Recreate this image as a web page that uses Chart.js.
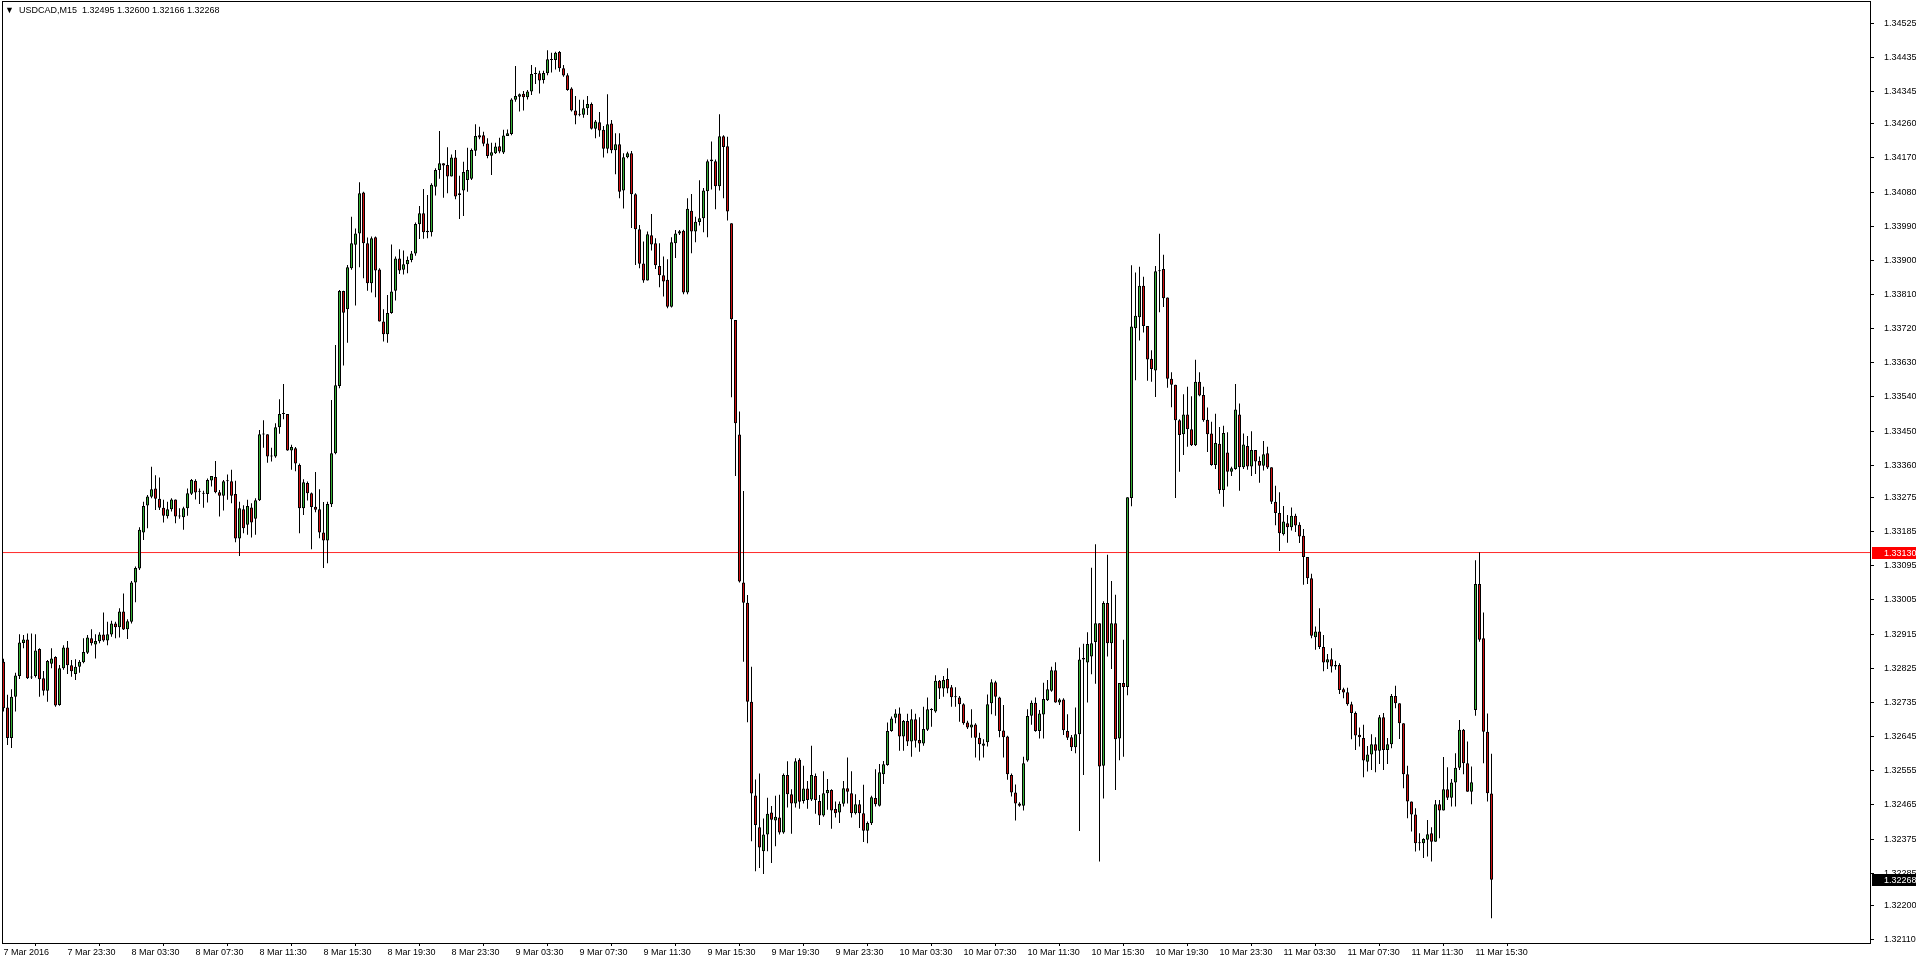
<!DOCTYPE html>
<html><head><meta charset="utf-8">
<script src="https://cdn.jsdelivr.net/npm/chart.js@4.4.1/dist/chart.umd.min.js"></script>
<style>
html,body{margin:0;padding:0;background:#fff;overflow:hidden}
#wrap{position:relative;width:1916px;height:964px}
#c{display:block}
#title{position:absolute;left:5px;top:5px;font:9px 'Liberation Sans',Arial,sans-serif;color:#000;white-space:pre;line-height:11px}
</style></head><body>
<div id="wrap"><canvas id="c" width="1916" height="964"></canvas><div id="title">▼  USDCAD,M15  1.32495 1.32600 1.32166 1.32268</div></div>
<script>
const symbolTitle = "USDCAD,M15";
const levelPrice = 1.33130;
const yTickValues = [1.34525,1.34435,1.34345,1.34260,1.34170,1.34080,1.33990,1.33900,1.33810,1.33720,1.33630,1.33540,1.33450,1.33360,1.33275,1.33185,1.33095,1.33005,1.32915,1.32825,1.32735,1.32645,1.32555,1.32465,1.32375,1.32285,1.32200,1.32110];
const xTickLabels = ["7 Mar 2016","7 Mar 23:30","8 Mar 03:30","8 Mar 07:30","8 Mar 11:30","8 Mar 15:30","8 Mar 19:30","8 Mar 23:30","9 Mar 03:30","9 Mar 07:30","9 Mar 11:30","9 Mar 15:30","9 Mar 19:30","9 Mar 23:30","10 Mar 03:30","10 Mar 07:30","10 Mar 11:30","10 Mar 15:30","10 Mar 19:30","10 Mar 23:30","11 Mar 03:30","11 Mar 07:30","11 Mar 11:30","11 Mar 15:30"];
const barsPerLabel = 16;

const opens = [1.32842,1.32722,1.32641,1.32750,1.32805,1.32892,1.32901,1.32801,1.32805,1.32876,
1.32799,1.32766,1.32837,1.32855,1.32728,1.32825,1.32880,1.32833,1.32810,1.32829,
1.32841,1.32866,1.32904,1.32888,1.32896,1.32914,1.32898,1.32914,1.32943,1.32933,
1.32975,1.32928,1.32948,1.33051,1.33088,1.33183,1.33254,1.33277,1.33299,1.33272,
1.33248,1.33226,1.33244,1.33270,1.33225,1.33223,1.33247,1.33285,1.33319,1.33291,
1.33286,1.33284,1.33320,1.33329,1.33289,1.33280,1.33318,1.33318,1.33284,1.33167,
1.33244,1.33203,1.33249,1.33219,1.33268,1.33441,1.33442,1.33383,1.33383,1.33460,
1.33495,1.33495,1.33399,1.33405,1.33361,1.33247,1.33313,1.33286,1.33251,1.33244,
1.33183,1.33162,1.33257,1.33392,1.33569,1.33819,1.33771,1.33879,1.33941,1.33971,
1.34079,1.33945,1.33840,1.33961,1.33876,1.33739,1.33705,1.33761,1.33820,1.33905,
1.33875,1.33890,1.33901,1.33918,1.33995,1.34024,1.33978,1.33974,1.34094,1.34138,
1.34156,1.34151,1.34121,1.34171,1.34077,1.34084,1.34112,1.34115,1.34189,1.34230,
1.34230,1.34208,1.34176,1.34182,1.34201,1.34184,1.34228,1.34233,1.34323,1.34331,
1.34339,1.34330,1.34345,1.34391,1.34393,1.34375,1.34393,1.34428,1.34428,1.34449,
1.34406,1.34388,1.34353,1.34295,1.34284,1.34284,1.34301,1.34312,1.34247,1.34264,
1.34244,1.34194,1.34261,1.34190,1.34206,1.34084,1.34172,1.34182,1.34074,1.33982,
1.33892,1.33847,1.33966,1.33945,1.33885,1.33861,1.33849,1.33778,1.33945,1.33971,
1.33978,1.33815,1.34031,1.33976,1.34001,1.34011,1.34082,1.34166,1.34161,1.34095,
1.34227,1.34201,1.33998,1.33743,1.33441,1.33051,1.32998,1.32737,1.32490,1.32406,
1.32343,1.32387,1.32445,1.32424,1.32432,1.32392,1.32544,1.32493,1.32469,1.32584,
1.32475,1.32508,1.32479,1.32541,1.32475,1.32437,1.32496,1.32504,1.32454,1.32445,
1.32468,1.32509,1.32496,1.32443,1.32467,1.32443,1.32397,1.32417,1.32483,1.32463,
1.32546,1.32570,1.32660,1.32695,1.32706,1.32645,1.32686,1.32632,1.32691,1.32636,
1.32627,1.32663,1.32715,1.32711,1.32792,1.32772,1.32797,1.32775,1.32750,1.32748,
1.32730,1.32682,1.32669,1.32677,1.32642,1.32621,1.32630,1.32733,1.32788,1.32748,
1.32661,1.32645,1.32544,1.32498,1.32469,1.32463,1.32582,1.32700,1.32734,1.32660,
1.32703,1.32741,1.32766,1.32820,1.32735,1.32743,1.32660,1.32643,1.32617,1.32651,
1.32848,1.32840,1.32856,1.32894,1.32944,1.32568,1.32997,1.32891,1.32944,1.32640,
1.32786,1.32776,1.33274,1.33721,1.33750,1.33833,1.33727,1.33641,1.33610,1.33871,
1.33877,1.33802,1.33588,1.33572,1.33479,1.33442,1.33494,1.33455,1.33413,1.33580,
1.33545,1.33480,1.33444,1.33361,1.33417,1.33295,1.33394,1.33343,1.33350,1.33494,
1.33355,1.33411,1.33357,1.33400,1.33371,1.33359,1.33392,1.33355,1.33264,1.33234,
1.33178,1.33207,1.33197,1.33227,1.33203,1.33174,1.33118,1.33062,1.32907,1.32922,
1.32881,1.32840,1.32849,1.32834,1.32834,1.32770,1.32762,1.32730,1.32707,1.32650,
1.32641,1.32579,1.32598,1.32625,1.32608,1.32696,1.32610,1.32625,1.32752,1.32733,
1.32680,1.32546,1.32474,1.32440,1.32364,1.32364,1.32373,1.32390,1.32368,1.32467,
1.32450,1.32506,1.32484,1.32524,1.32563,1.32663,1.32575,1.32500,1.32715,1.33047,
1.32904,1.32658,1.32495];

const highs = [1.32850,1.32755,1.32770,1.32813,1.32915,1.32913,1.32917,1.32917,1.32915,1.32878,
1.32818,1.32847,1.32878,1.32857,1.32834,1.32886,1.32897,1.32847,1.32849,1.32847,
1.32904,1.32913,1.32928,1.32915,1.32920,1.32972,1.32948,1.32950,1.32948,1.32983,
1.33022,1.32954,1.33055,1.33093,1.33197,1.33264,1.33282,1.33356,1.33334,1.33328,
1.33269,1.33264,1.33273,1.33270,1.33247,1.33251,1.33299,1.33324,1.33323,1.33299,
1.33293,1.33325,1.33332,1.33371,1.33295,1.33321,1.33336,1.33348,1.33319,1.33264,
1.33255,1.33269,1.33260,1.33273,1.33453,1.33479,1.33442,1.33406,1.33471,1.33534,
1.33574,1.33495,1.33414,1.33408,1.33365,1.33323,1.33317,1.33288,1.33342,1.33297,
1.33263,1.33264,1.33532,1.33677,1.33822,1.33820,1.33888,1.34015,1.33984,1.34106,
1.34081,1.33960,1.33963,1.33963,1.33879,1.33771,1.33809,1.33942,1.33910,1.33929,
1.33926,1.33910,1.33925,1.34000,1.34043,1.34088,1.34072,1.34103,1.34143,1.34241,
1.34156,1.34198,1.34179,1.34191,1.34123,1.34160,1.34197,1.34195,1.34259,1.34252,
1.34239,1.34222,1.34210,1.34210,1.34223,1.34244,1.34245,1.34327,1.34412,1.34340,
1.34346,1.34349,1.34415,1.34409,1.34400,1.34400,1.34454,1.34447,1.34450,1.34452,
1.34415,1.34393,1.34356,1.34333,1.34323,1.34323,1.34333,1.34316,1.34270,1.34291,
1.34254,1.34338,1.34270,1.34235,1.34235,1.34182,1.34186,1.34188,1.34077,1.33993,
1.33950,1.33976,1.34022,1.33958,1.33945,1.33910,1.33903,1.33961,1.33980,1.33980,
1.33981,1.34064,1.34075,1.34015,1.34111,1.34091,1.34166,1.34213,1.34166,1.34285,
1.34230,1.34226,1.33998,1.33743,1.33502,1.33292,1.33018,1.32829,1.32532,1.32548,
1.32429,1.32484,1.32462,1.32489,1.32492,1.32548,1.32580,1.32506,1.32588,1.32588,
1.32568,1.32528,1.32621,1.32548,1.32491,1.32554,1.32533,1.32506,1.32474,1.32474,
1.32528,1.32590,1.32554,1.32493,1.32478,1.32518,1.32421,1.32489,1.32559,1.32573,
1.32581,1.32682,1.32698,1.32717,1.32722,1.32689,1.32705,1.32717,1.32705,1.32696,
1.32724,1.32748,1.32720,1.32807,1.32794,1.32805,1.32825,1.32781,1.32775,1.32752,
1.32733,1.32687,1.32717,1.32680,1.32655,1.32638,1.32756,1.32796,1.32792,1.32750,
1.32728,1.32647,1.32548,1.32519,1.32472,1.32592,1.32717,1.32740,1.32748,1.32715,
1.32787,1.32794,1.32829,1.32841,1.32746,1.32746,1.32704,1.32649,1.32722,1.32880,
1.32890,1.32920,1.33090,1.33152,1.32944,1.33002,1.33124,1.33055,1.33019,1.32786,
1.32900,1.33276,1.33887,1.33868,1.33883,1.33857,1.33727,1.33663,1.33885,1.33970,
1.33915,1.33802,1.33605,1.33572,1.33481,1.33547,1.33567,1.33542,1.33638,1.33605,
1.33567,1.33512,1.33475,1.33496,1.33461,1.33464,1.33447,1.33356,1.33574,1.33523,
1.33444,1.33437,1.33450,1.33400,1.33383,1.33424,1.33409,1.33355,1.33306,1.33289,
1.33253,1.33229,1.33249,1.33232,1.33210,1.33192,1.33118,1.33074,1.32935,1.32983,
1.32913,1.32863,1.32878,1.32845,1.32838,1.32774,1.32774,1.32737,1.32711,1.32669,
1.32676,1.32620,1.32651,1.32643,1.32702,1.32707,1.32641,1.32757,1.32779,1.32733,
1.32680,1.32568,1.32474,1.32456,1.32390,1.32377,1.32425,1.32406,1.32478,1.32478,
1.32591,1.32564,1.32533,1.32601,1.32689,1.32665,1.32632,1.32566,1.33110,1.33131,
1.32972,1.32706,1.32600];

const lows = [1.32711,1.32623,1.32615,1.32711,1.32797,1.32878,1.32797,1.32797,1.32801,1.32750,
1.32753,1.32737,1.32825,1.32724,1.32726,1.32821,1.32810,1.32803,1.32794,1.32813,
1.32838,1.32863,1.32885,1.32851,1.32891,1.32895,1.32886,1.32908,1.32904,1.32906,
1.32926,1.32902,1.32943,1.32999,1.33084,1.33163,1.33194,1.33273,1.33242,1.33242,
1.33209,1.33220,1.33238,1.33207,1.33219,1.33190,1.33227,1.33282,1.33270,1.33258,
1.33248,1.33262,1.33304,1.33286,1.33225,1.33241,1.33269,1.33260,1.33157,1.33121,
1.33181,1.33177,1.33170,1.33177,1.33266,1.33406,1.33367,1.33370,1.33380,1.33443,
1.33481,1.33398,1.33348,1.33344,1.33181,1.33229,1.33267,1.33139,1.33236,1.33168,
1.33089,1.33102,1.33250,1.33389,1.33563,1.33623,1.33683,1.33875,1.33781,1.33882,
1.33853,1.33820,1.33815,1.33803,1.33739,1.33686,1.33683,1.33759,1.33794,1.33864,
1.33863,1.33866,1.33895,1.33912,1.33956,1.33957,1.33958,1.33963,1.34071,1.34115,
1.34065,1.34077,1.34121,1.34061,1.34009,1.34017,1.34081,1.34112,1.34175,1.34219,
1.34201,1.34169,1.34125,1.34180,1.34182,1.34180,1.34228,1.34230,1.34318,1.34292,
1.34295,1.34324,1.34336,1.34365,1.34340,1.34366,1.34388,1.34395,1.34403,1.34397,
1.34384,1.34347,1.34292,1.34259,1.34280,1.34276,1.34283,1.34245,1.34222,1.34226,
1.34171,1.34182,1.34182,1.34127,1.34064,1.34037,1.34169,1.33985,1.33888,1.33879,
1.33841,1.33847,1.33926,1.33877,1.33829,1.33805,1.33774,1.33776,1.33906,1.33967,
1.33811,1.33811,1.33919,1.33948,1.33992,1.33974,1.33961,1.34087,1.34035,1.34084,
1.34064,1.34005,1.33539,1.33332,1.33051,1.32842,1.32683,1.32369,1.32290,1.32299,
1.32283,1.32343,1.32312,1.32356,1.32387,1.32389,1.32458,1.32389,1.32458,1.32455,
1.32469,1.32455,1.32475,1.32442,1.32412,1.32434,1.32452,1.32402,1.32432,1.32417,
1.32461,1.32469,1.32432,1.32440,1.32404,1.32367,1.32364,1.32412,1.32461,1.32461,
1.32520,1.32568,1.32658,1.32680,1.32608,1.32608,1.32620,1.32592,1.32616,1.32605,
1.32621,1.32660,1.32671,1.32708,1.32744,1.32750,1.32759,1.32724,1.32724,1.32684,
1.32676,1.32665,1.32642,1.32590,1.32582,1.32590,1.32619,1.32704,1.32700,1.32643,
1.32590,1.32531,1.32487,1.32424,1.32460,1.32450,1.32579,1.32676,1.32658,1.32640,
1.32640,1.32739,1.32763,1.32734,1.32728,1.32649,1.32636,1.32607,1.32601,1.32396,
1.32544,1.32735,1.32809,1.32784,1.32316,1.32482,1.32856,1.32823,1.32504,1.32583,
1.32592,1.32754,1.33252,1.33584,1.33689,1.33710,1.33583,1.33580,1.33540,1.33763,
1.33777,1.33564,1.33513,1.33274,1.33343,1.33387,1.33409,1.33411,1.33411,1.33542,
1.33475,1.33395,1.33359,1.33350,1.33285,1.33251,1.33304,1.33332,1.33348,1.33293,
1.33350,1.33348,1.33332,1.33337,1.33314,1.33346,1.33350,1.33258,1.33202,1.33134,
1.33175,1.33156,1.33188,1.33184,1.33155,1.33045,1.33047,1.32904,1.32874,1.32876,
1.32817,1.32823,1.32814,1.32821,1.32757,1.32746,1.32726,1.32638,1.32610,1.32619,
1.32538,1.32553,1.32557,1.32551,1.32573,1.32557,1.32573,1.32614,1.32720,1.32639,
1.32509,1.32430,1.32395,1.32342,1.32345,1.32325,1.32329,1.32316,1.32368,1.32377,
1.32450,1.32478,1.32461,1.32461,1.32557,1.32546,1.32500,1.32467,1.32700,1.32895,
1.32575,1.32474,1.32166];

const closes = [1.32720,1.32641,1.32750,1.32806,1.32893,1.32901,1.32799,1.32802,1.32872,1.32796,
1.32766,1.32844,1.32851,1.32727,1.32825,1.32880,1.32833,1.32817,1.32829,1.32842,
1.32868,1.32906,1.32891,1.32897,1.32914,1.32898,1.32915,1.32943,1.32933,1.32975,
1.32927,1.32949,1.33051,1.33089,1.33190,1.33253,1.33278,1.33297,1.33272,1.33248,
1.33227,1.33244,1.33270,1.33225,1.33226,1.33247,1.33286,1.33321,1.33288,1.33290,
1.33285,1.33321,1.33332,1.33289,1.33280,1.33318,1.33318,1.33280,1.33167,1.33247,
1.33194,1.33253,1.33209,1.33268,1.33442,1.33441,1.33383,1.33383,1.33460,1.33495,
1.33495,1.33399,1.33408,1.33365,1.33247,1.33315,1.33286,1.33250,1.33243,1.33183,
1.33162,1.33258,1.33392,1.33571,1.33819,1.33762,1.33882,1.33945,1.33971,1.34077,
1.33945,1.33840,1.33958,1.33873,1.33739,1.33705,1.33761,1.33818,1.33905,1.33873,
1.33890,1.33901,1.33918,1.33996,1.34024,1.33974,1.33974,1.34099,1.34138,1.34156,
1.34150,1.34121,1.34171,1.34068,1.34072,1.34133,1.34138,1.34191,1.34228,1.34224,
1.34207,1.34175,1.34185,1.34200,1.34187,1.34229,1.34235,1.34324,1.34333,1.34338,
1.34330,1.34345,1.34391,1.34391,1.34374,1.34394,1.34430,1.34428,1.34447,1.34406,
1.34387,1.34349,1.34295,1.34282,1.34284,1.34301,1.34312,1.34247,1.34266,1.34242,
1.34194,1.34259,1.34190,1.34206,1.34081,1.34172,1.34182,1.34074,1.33982,1.33891,
1.33847,1.33969,1.33942,1.33887,1.33861,1.33844,1.33778,1.33948,1.33971,1.33977,
1.33815,1.34036,1.33976,1.34002,1.34011,1.34084,1.34161,1.34161,1.34095,1.34227,
1.34199,1.34029,1.33745,1.33471,1.33054,1.32998,1.32737,1.32495,1.32412,1.32353,
1.32387,1.32442,1.32426,1.32434,1.32392,1.32544,1.32493,1.32469,1.32580,1.32473,
1.32508,1.32478,1.32544,1.32478,1.32437,1.32496,1.32504,1.32450,1.32443,1.32468,
1.32509,1.32500,1.32443,1.32467,1.32443,1.32397,1.32417,1.32485,1.32467,1.32551,
1.32572,1.32660,1.32693,1.32706,1.32645,1.32686,1.32632,1.32691,1.32634,1.32627,
1.32665,1.32717,1.32715,1.32792,1.32772,1.32794,1.32772,1.32749,1.32749,1.32730,
1.32680,1.32669,1.32677,1.32642,1.32625,1.32627,1.32730,1.32788,1.32750,1.32660,
1.32643,1.32546,1.32498,1.32469,1.32463,1.32575,1.32699,1.32734,1.32660,1.32706,
1.32744,1.32770,1.32820,1.32735,1.32743,1.32662,1.32642,1.32617,1.32651,1.32848,
1.32852,1.32889,1.32891,1.32944,1.32566,1.32997,1.32891,1.32944,1.32638,1.32786,
1.32776,1.33276,1.33726,1.33754,1.33833,1.33727,1.33639,1.33614,1.33871,1.33873,
1.33800,1.33588,1.33572,1.33479,1.33440,1.33494,1.33455,1.33413,1.33580,1.33544,
1.33479,1.33442,1.33361,1.33419,1.33295,1.33445,1.33343,1.33352,1.33507,1.33355,
1.33415,1.33357,1.33400,1.33370,1.33359,1.33389,1.33354,1.33264,1.33234,1.33181,
1.33212,1.33197,1.33227,1.33201,1.33172,1.33118,1.33062,1.32911,1.32922,1.32881,
1.32840,1.32849,1.32830,1.32830,1.32768,1.32761,1.32730,1.32707,1.32648,1.32643,
1.32582,1.32598,1.32625,1.32608,1.32696,1.32610,1.32625,1.32752,1.32733,1.32680,
1.32546,1.32474,1.32440,1.32364,1.32364,1.32375,1.32388,1.32368,1.32467,1.32450,
1.32506,1.32484,1.32524,1.32563,1.32663,1.32575,1.32500,1.32525,1.33047,1.32900,
1.32658,1.32496,1.32268];

const UP = '#35b035', DOWN = '#d01010', LINE = '#ff2a2a';
const FONT = "'Liberation Sans', Arial, sans-serif";

const bodyData = opens.map((o, i) => ({ x: i, y: [o, closes[i]] }));
const wickData = lows.map((l, i) => ({ x: i, y: [l, highs[i]] }));
const bodyColors = opens.map((o, i) => closes[i] > o ? UP : (closes[i] < o ? DOWN : '#000'));

const X_MIN = -0.375, X_MAX = 466.625;

const zeroPad = s => { s.paddingTop = 0; s.paddingBottom = 0; s.paddingLeft = 0; s.paddingRight = 0; };

const framePlugin = {
  id: 'frame',
  afterDraw(chart) {
    const { ctx, chartArea: a, scales: { y } } = chart;
    ctx.save();
    ctx.strokeStyle = '#000';
    ctx.lineWidth = 1;
    ctx.strokeRect(a.left + 0.5, a.top + 0.5, a.right - a.left, a.bottom - a.top);
    const tag = (v, bg) => {
      const py = Math.round(y.getPixelForValue(v));
      ctx.fillStyle = bg;
      ctx.fillRect(a.right + 2, py - 6, 46, 12);
      ctx.fillStyle = '#fff';
      ctx.font = '9px ' + FONT;
      ctx.textBaseline = 'middle';
      ctx.textAlign = 'left';
      ctx.fillText(v.toFixed(5), a.right + 14, py + 0.5);
    };
    tag(levelPrice, '#ff0000');
    tag(closes[closes.length - 1], '#000');
    ctx.restore();
  }
};

new Chart(document.getElementById('c'), {
  type: 'bar',
  data: {
    datasets: [
      { type: 'bar', label: 'body', data: bodyData, backgroundColor: bodyColors, borderColor: '#000',
        borderWidth: 1, borderSkipped: false, barThickness: 3, minBarLength: 1, grouped: false,
        inflateAmount: 0, order: 0 },
      { type: 'bar', label: 'wick', data: wickData, backgroundColor: '#000', borderWidth: 0,
        barThickness: 1, grouped: false, inflateAmount: 0, order: 1 },
      { type: 'line', label: 'level', data: [{ x: X_MIN, y: levelPrice }, { x: X_MAX, y: levelPrice }],
        borderColor: LINE, borderWidth: 1, pointRadius: 0, fill: false, order: 2 }
    ]
  },
  options: {
    responsive: false, animation: false, devicePixelRatio: 1, events: [],
    layout: { padding: { left: 2, top: 1, right: 0, bottom: 0 } },
    plugins: { legend: { display: false }, tooltip: { enabled: false }, title: { display: false } },
    scales: {
      x: {
        type: 'linear', min: X_MIN, max: X_MAX, position: 'bottom', offset: false,
        afterBuildTicks: s => { s.ticks = xTickLabels.map((t, k) => ({ value: k * barsPerLabel })); },
        afterFit: s => { s.height = 21; zeroPad(s); },
        ticks: { autoSkip: false, maxRotation: 0, minRotation: 0, align: 'start', padding: 1, color: '#000',
          font: { family: FONT, size: 9 }, callback: (v, i) => xTickLabels[i] },
        grid: { display: true, drawOnChartArea: false, drawTicks: true, tickLength: 3, color: '#000', lineWidth: 1 },
        border: { display: false }
      },
      y: {
        position: 'right', min: 1.321011, max: 1.345835,
        afterBuildTicks: s => { s.ticks = yTickValues.map(v => ({ value: v })); },
        afterFit: s => { s.width = 46; zeroPad(s); },
        ticks: { padding: 10, color: '#000', font: { family: FONT, size: 9 }, callback: v => v.toFixed(5) },
        grid: { display: true, drawOnChartArea: false, drawTicks: true, tickLength: 4, color: '#000', lineWidth: 1 },
        border: { display: false }
      }
    }
  },
  plugins: [framePlugin]
});
</script>
</body></html>
